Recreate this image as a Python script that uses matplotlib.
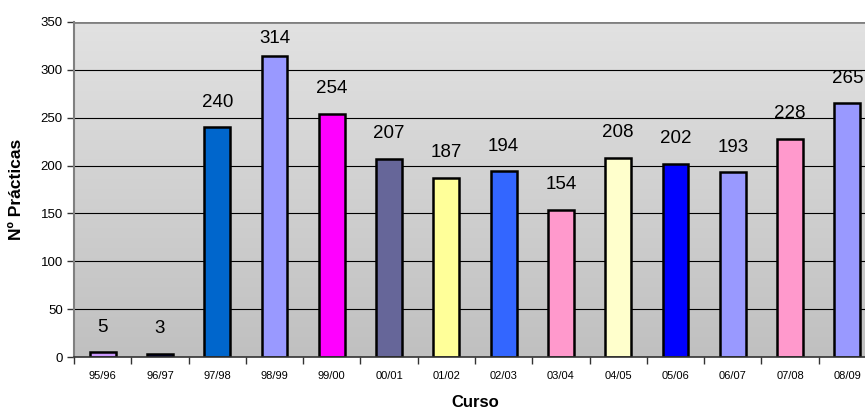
import matplotlib
matplotlib.use("Agg")
import matplotlib.pyplot as plt
import numpy as np
from matplotlib.colors import LinearSegmentedColormap

categories = ["95/96", "96/97", "97/98", "98/99", "99/00", "00/01", "01/02",
              "02/03", "03/04", "04/05", "05/06", "06/07", "07/08", "08/09"]
values = [5, 3, 240, 314, 254, 207, 187, 194, 154, 208, 202, 193, 228, 265]
colors = ["#CC99FF", "#000080", "#0066CC", "#9999FF", "#FF00FF", "#666699",
          "#FFFF99", "#3366FF", "#FF99CC", "#FFFFCC", "#0000FF", "#9999FF",
          "#FF99CC", "#9999FF"]

plt.rcParams['font.family'] = ['Liberation Sans', 'DejaVu Sans']

W, H = 865, 415
fig = plt.figure(figsize=(W / 100, H / 100), dpi=100)
left, right, top, bottom = 74, 876, 22, 357
ax = fig.add_axes([left / W, 1 - bottom / H, (right - left) / W, (bottom - top) / H])

n = len(categories)
x = np.arange(n)
ax.set_xlim(-0.5, n - 0.5)
ax.set_ylim(0, 350)

# gradient background
grad = np.linspace(0, 1, 256).reshape(-1, 1)
cmap = LinearSegmentedColormap.from_list("bg", ["#C0C0C0", "#E2E2E2"])
ax.imshow(grad, aspect='auto', cmap=cmap, origin='lower',
          extent=[-0.5, n - 0.5, 0, 350], zorder=0)

for yv in range(50, 351, 50):
    ax.axhline(yv, color="#000000" if yv < 350 else "#808080",
               lw=0.8 if yv < 350 else 2, zorder=1)

ax.bar(x, values, width=0.45, color=colors, edgecolor="black", linewidth=1.8, zorder=2)

for xi, v in zip(x, values):
    off = 12 if v < 300 else 7
    ax.annotate(str(v), (xi, v), xytext=(0, off), textcoords="offset points",
                ha="center", va="bottom", fontsize=13.5)

ax.set_yticks(range(0, 351, 50))
ax.set_yticklabels([str(t) for t in range(0, 351, 50)], fontsize=9.5)
ax.set_xticks(np.arange(-0.5, n, 1), minor=False)
ax.set_xticklabels([])
ax.set_xticks(x, minor=True)
ax.set_xticklabels(categories, minor=True, fontsize=8)
ax.tick_params(axis='x', which='minor', length=0, pad=10)
ax.tick_params(axis='x', which='major', length=5, width=1, color="#333333")
ax.tick_params(axis='y', length=5, width=1, color="#333333", pad=3)

for s in ["top", "right"]:
    ax.spines[s].set_visible(False)
ax.spines["left"].set_color("#808080")
ax.spines["left"].set_linewidth(1.5)
ax.spines["bottom"].set_color("#333333")
ax.spines["bottom"].set_linewidth(1.2)

ax.set_xlabel("Curso", fontsize=12, fontweight="bold", labelpad=10)
ax.set_ylabel("Nº Prácticas", fontsize=12.5, fontweight="bold", labelpad=12)

fig.savefig("out.png", dpi=100)
